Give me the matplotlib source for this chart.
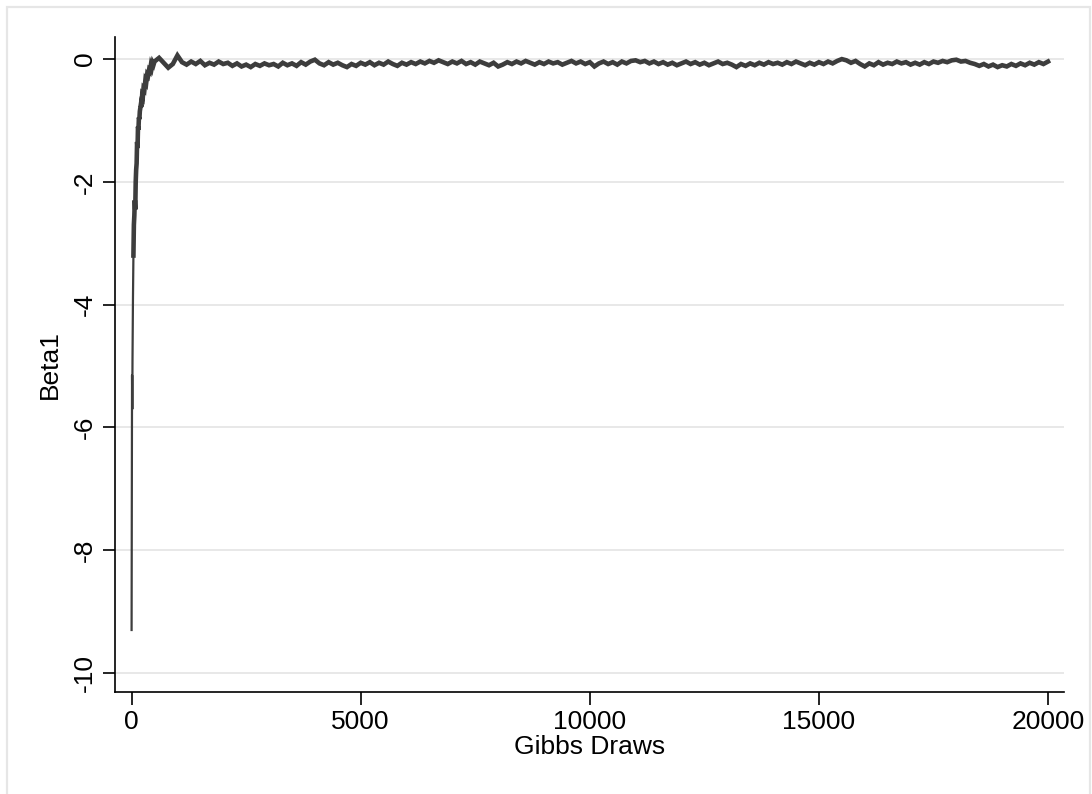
import numpy as np
import matplotlib
matplotlib.use("Agg")
import matplotlib.pyplot as plt
from matplotlib.patches import Rectangle

plt.rcParams["font.family"] = ["Liberation Sans", "DejaVu Sans"]

# ── Gibbs trace for Beta1 ────────────────────────────────────────────────────
# first draws: a single thin jump from the starting value
start_draws = [0, 10, 15, 20, 30, 40]
start_vals = [-9.30, -5.15, -5.70, -4.90, -3.90, -3.20]

# rest of the burn-in (draw index, value)
burn_draws = [40, 50, 60, 70, 80, 90, 100, 110, 120, 130, 140, 150, 160, 170,
              180, 200, 215, 230, 245, 260, 280, 300, 320, 340, 360, 380, 400,
              420, 440, 460, 480, 500]
burn_vals = [-3.20, -2.70, -2.55, -2.30, -2.45, -2.00, -1.80, -1.70, -1.35,
             -1.45, -1.10, -1.15, -0.95, -0.98, -0.85, -0.75, -0.78, -0.60,
             -0.62, -0.48, -0.50, -0.35, -0.38, -0.25, -0.27, -0.18, -0.20,
             -0.10, -0.14, -0.06, -0.09, -0.04]

# stationary segment, every 100 draws from 600 to 20000
steady_draws = list(range(600, 20001, 100))
steady_vals = [
    0.02, -0.06, -0.14, -0.08, 0.06,
    -0.05, -0.09, -0.04, -0.08, -0.03, -0.10, -0.06, -0.09, -0.04, -0.08,
    -0.06, -0.11, -0.07, -0.12, -0.09, -0.13, -0.08, -0.11, -0.07, -0.10,
    -0.08, -0.12, -0.06, -0.10, -0.07, -0.11, -0.05, -0.09, -0.04, -0.01,
    -0.07, -0.10, -0.05, -0.09, -0.06, -0.10, -0.13, -0.08, -0.11, -0.06,
    -0.09, -0.05, -0.10, -0.06, -0.09, -0.04, -0.08, -0.11, -0.06, -0.09,
    -0.05, -0.08, -0.04, -0.07, -0.03, -0.06, -0.02, -0.05, -0.08, -0.04,
    -0.07, -0.03, -0.08, -0.05, -0.09, -0.04, -0.07, -0.10, -0.06, -0.12,
    -0.09, -0.05, -0.08, -0.04, -0.07, -0.03, -0.06, -0.09, -0.05, -0.08,
    -0.04, -0.07, -0.05, -0.09, -0.06, -0.03, -0.07, -0.04, -0.08, -0.05,
    -0.12, -0.07, -0.04, -0.08, -0.05, -0.09, -0.04, -0.07, -0.03, -0.02,
    -0.05, -0.03, -0.07, -0.04, -0.08, -0.05, -0.09, -0.06, -0.10, -0.07,
    -0.04, -0.08, -0.05, -0.09, -0.06, -0.10, -0.07, -0.04, -0.08, -0.06,
    -0.09, -0.13, -0.08, -0.11, -0.07, -0.10, -0.06, -0.09, -0.05, -0.08,
    -0.06, -0.09, -0.05, -0.08, -0.04, -0.07, -0.10, -0.06, -0.09, -0.05,
    -0.08, -0.04, -0.07, -0.03, 0.00, -0.02, -0.06, -0.03, -0.08, -0.12,
    -0.07, -0.10, -0.05, -0.09, -0.06, -0.08, -0.04, -0.07, -0.05, -0.09,
    -0.06, -0.09, -0.05, -0.08, -0.04, -0.06, -0.03, -0.05, -0.02, -0.01,
    -0.04, -0.03, -0.06, -0.08, -0.11, -0.08, -0.12, -0.09, -0.13, -0.10,
    -0.12, -0.08, -0.11, -0.07, -0.10, -0.06, -0.09, -0.05, -0.08, -0.04,
]

x_ticks = [0, 5000, 10000, 15000, 20000]
y_ticks = [0, -2, -4, -6, -8, -10]

trace_draws = np.array(burn_draws + steady_draws)
trace_vals = np.array(burn_vals + steady_vals)

# ── Plot ──────────────────────────────────────────────────────────────────────
fig = plt.figure(figsize=(10.92, 7.94), dpi=100)
fig.patch.set_facecolor("white")
fig.patches.append(Rectangle((7 / 1092, -0.02), 1083 / 1092, 1.02 - 7 / 794,
                             transform=fig.transFigure, fill=False,
                             edgecolor="#e6e6e6", linewidth=1.6))

ax = fig.add_axes([115 / 1092, 1 - 692 / 794, 949 / 1092, 655 / 794])
line_color = "#3d3d3d"
ax.plot(start_draws, start_vals, color=line_color, linewidth=1.6)
ax.plot(trace_draws, trace_vals, color=line_color, linewidth=3.3,
        solid_joinstyle="miter")

ax.set_xlim(-362, 20349)
ax.set_ylim(-10.31, 0.36)
ax.set_xticks(x_ticks)
ax.set_yticks(y_ticks)
ax.set_yticklabels([str(v) for v in y_ticks], rotation=90, va="center")

ax.grid(axis="y", color="#e8e8e8", linewidth=1.4)
ax.set_axisbelow(True)
for side in ["top", "right"]:
    ax.spines[side].set_visible(False)
for side in ["left", "bottom"]:
    ax.spines[side].set_linewidth(1.2)
ax.tick_params(axis="both", length=9, width=1.2, labelsize=19, pad=4)

ax.set_xlabel("Gibbs Draws", fontsize=19, labelpad=1)
ax.set_ylabel("Beta1", fontsize=19, labelpad=8)

fig.savefig("out.png", dpi=100)
